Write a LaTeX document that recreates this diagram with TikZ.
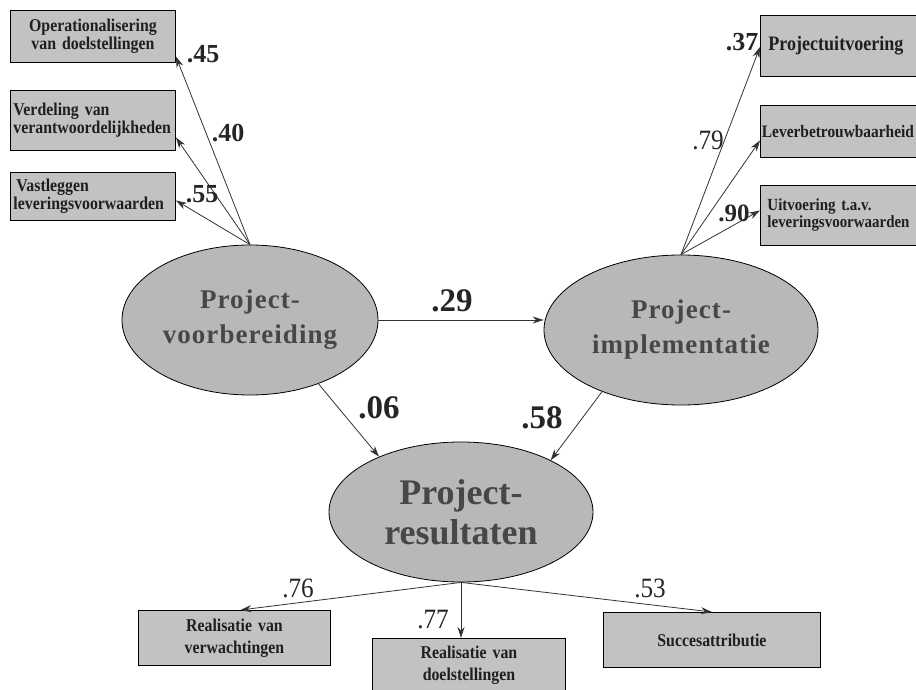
\documentclass[tikz,border=0pt]{standalone}
\usepackage{fontspec}
\setmainfont{Liberation Serif}
\newfontfamily\ellfont[LetterSpace=4]{Liberation Serif}
\newfontfamily\boxfont[FakeStretch=0.88]{Liberation Serif}
\newfontfamily\numfont[FakeStretch=0.9]{Liberation Serif}
\usetikzlibrary{shapes.geometric,arrows.meta}
\begin{document}
\begin{tikzpicture}[x=1pt,y=-1pt,
  ell/.style={ellipse, draw=black, line width=0.8pt, fill=black!28, text=black!72,
    align=center, inner sep=0pt},
  bx/.style={draw=black, line width=0.9pt, fill=black!24, text=black!88,
    inner xsep=3pt, inner ysep=0pt, anchor=north west},
  bfnt/.style={font=\boxfont\bfseries\fontsize{#1}{#1}\selectfont},
  arr/.style={-{Stealth[length=11pt,width=7pt]}, line width=0.8pt, draw=black!80},
  lblb/.style={font=\bfseries\fontsize{#1}{#1}\selectfont, text=black!85, inner sep=0pt},
  lblr/.style={font=\numfont\fontsize{#1}{#1}\selectfont, text=black!85, inner sep=0pt}
]
\useasboundingbox (0,0) rectangle (916,690);
\fill[white] (0,0) rectangle (916,690);
\begin{scope}
\clip (0,0) rectangle (916,690);

% ellipses
\node[ell, minimum width=256pt, minimum height=150pt,
  font=\ellfont\bfseries\fontsize{27}{35}\selectfont] (prep) at (250,320) {Project-\\voorbereiding};
\node[ell, minimum width=274pt, minimum height=150pt,
  font=\ellfont\bfseries\fontsize{27}{35}\selectfont] (impl) at (681,330) {Project-\\implementatie};
\node[ell, minimum width=264pt, minimum height=140pt,
  font=\bfseries\fontsize{36}{40}\selectfont] (res) at (461,512) {Project-\\resultaten};

% left boxes
\node[bx, bfnt=18, text width=159pt, align=center, minimum height=52pt] (b1) at (10,10)
  {Operationalisering\\van doelstellingen};
\node[bx, bfnt=18, text width=159pt, align=left, minimum height=60pt] (b2) at (10,90)
  {Verdeling van\\verantwoordelijkheden};
\node[bx, bfnt=18, text width=159pt, align=left, minimum height=48pt] (b3) at (10,172)
  {\hspace*{3pt}Vastleggen\\leveringsvoorwaarden};

% right boxes
\node[bx, bfnt=20.5, text width=200pt, align=left, minimum height=61pt] (r1) at (760,15)
  {\hspace*{5pt}Projectuitvoering};
\node[bx, bfnt=17.5, text width=200pt, align=left, minimum height=52pt, inner xsep=1.5pt] (r2) at (760,105)
  {Leverbetrouwbaarheid};
\node[bx, bfnt=17, text width=200pt, align=left, minimum height=60pt, inner xsep=7pt] (r3) at (760,185)
  {Uitvoering t.a.v.\\leveringsvoorwaarden};

% bottom boxes
\node[bx, font=\boxfont\bfseries\fontsize{18}{22}\selectfont, text width=186pt, align=center, minimum height=55pt] (c1) at (138,610)
  {Realisatie van\\verwachtingen};
\node[bx, font=\boxfont\bfseries\fontsize{18}{22}\selectfont, text width=187pt, align=center, minimum height=54pt] (c2) at (372,638)
  {Realisatie van\\doelstellingen};
\node[bx, font=\boxfont\bfseries\fontsize{18}{22}\selectfont, text width=211pt, align=center, minimum height=55pt] (c3) at (603,612)
  {Succesattributie};

% arrows
\draw[arr] (prep.east) -- (prep.east -| impl.west);
\draw[arr] (prep.-43) -- (res.146);
\draw[arr] (impl.218) -- (res.30);

\draw[arr] (prep.north) -- ([yshift=-20pt]b1.east);
\draw[arr] (prep.north) -- ([yshift=-17pt]b2.east);
\draw[arr] (prep.north) -- ([yshift=-4pt]b3.east);

\draw[arr] (impl.north) -- ([yshift=-1pt]r1.west);
\draw[arr] (impl.north) -- ([yshift=-9pt]r2.west);
\draw[arr] (impl.north) -- ([yshift=5pt]r3.west);

\draw[arr] (res.south) -- ([xshift=6pt]c1.north);
\draw[arr] (res.south) -- (res.south |- c2.north);
\draw[arr] (res.south) -- (c3.north);

% labels
\node[lblb=26] (l45) at (203,54) {.45};
\node[lblb=26] (l40) at (228,133) {.40};
\node[lblb=26] (l55) at (202,194) {.55};
\node[lblb=26] (l37) at (742,42) {.37};
\node[lblr=28] (l79) at (708,140) {.79};
\node[lblb=25] (l90) at (734,213) {.90};
\node[lblb=33] (l29) at (452,301) {.29};
\node[lblb=33] (l06) at (379,408) {.06};
\node[lblb=33] (l58) at (542,418) {.58};
\node[lblr=28] (l76) at (298,588) {.76};
\node[lblr=28] (l77) at (433,620) {.77};
\node[lblr=28] (l53) at (650,588) {.53};
\end{scope}
\end{tikzpicture}
\end{document}
